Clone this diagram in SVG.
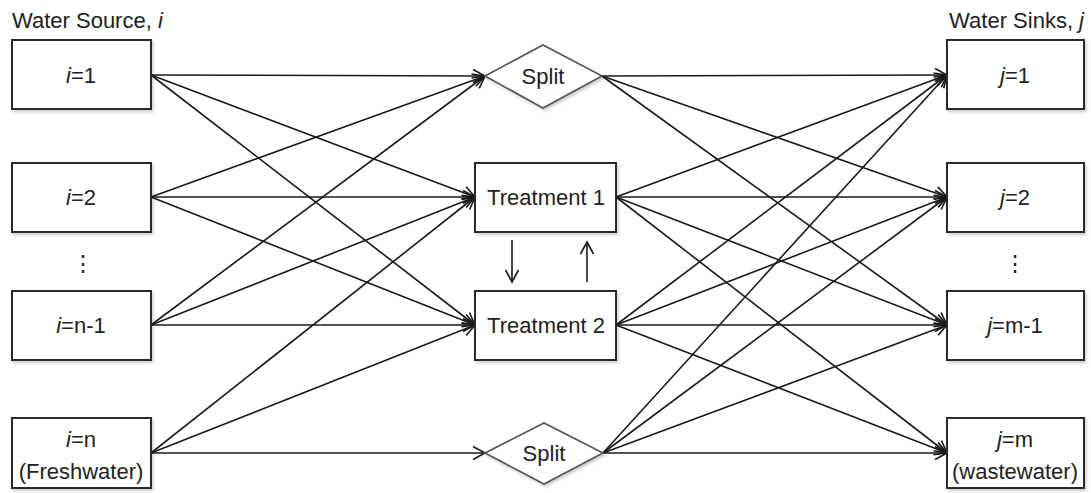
<svg xmlns="http://www.w3.org/2000/svg" width="1091" height="493" viewBox="0 0 1091 493">
<defs>
<marker id="arr" viewBox="-13 -8 15 16" refX="0" refY="0" markerWidth="15" markerHeight="16" markerUnits="userSpaceOnUse" orient="auto">
<path d="M-12,-6.5 L0,0 L-12,6.5" fill="none" stroke="#1a1a1a" stroke-width="1.6"/>
</marker>
<filter id="sh" x="-10%" y="-10%" width="125%" height="130%">
<feDropShadow dx="1.5" dy="2" stdDeviation="1.5" flood-color="#000" flood-opacity="0.2"/>
</filter>
<style>
.box{fill:#fff;stroke:#2a2a2a;stroke-width:2;filter:url(#sh)}
.dia{fill:#fff;stroke:#555;stroke-width:1.6;filter:url(#sh)}
.t{font-family:"Liberation Sans",Arial,sans-serif;font-size:22px;fill:#222;text-anchor:middle}
.h{font-family:"Liberation Sans",Arial,sans-serif;font-size:22px;fill:#222}
.c line{stroke:#1a1a1a;stroke-width:1.6;marker-end:url(#arr)}
</style>
</defs>
<rect width="1091" height="493" fill="#fff"/>
<text class="h" x="12" y="28">Water Source, <tspan font-style="italic">i</tspan></text>
<text class="h" x="1084" y="28" text-anchor="end">Water Sinks, <tspan font-style="italic">j</tspan></text>

<g class="c" id="connectors">
<line x1="151" y1="75" x2="485" y2="76"/>
<line x1="151" y1="197" x2="485" y2="76"/>
<line x1="151" y1="325" x2="485" y2="76"/>
<line x1="151" y1="75" x2="475" y2="197"/>
<line x1="151" y1="197" x2="475" y2="197"/>
<line x1="151" y1="325" x2="475" y2="197"/>
<line x1="151" y1="453" x2="475" y2="197"/>
<line x1="151" y1="75" x2="475" y2="325"/>
<line x1="151" y1="197" x2="475" y2="325"/>
<line x1="151" y1="325" x2="475" y2="325"/>
<line x1="151" y1="453" x2="475" y2="325"/>
<line x1="151" y1="453" x2="485" y2="453"/>
<line x1="602" y1="76" x2="947" y2="75"/>
<line x1="602" y1="76" x2="947" y2="197"/>
<line x1="602" y1="76" x2="947" y2="325"/>
<line x1="616" y1="197" x2="947" y2="75"/>
<line x1="616" y1="197" x2="947" y2="197"/>
<line x1="616" y1="197" x2="947" y2="325"/>
<line x1="616" y1="197" x2="947" y2="453"/>
<line x1="616" y1="325" x2="947" y2="75"/>
<line x1="616" y1="325" x2="947" y2="197"/>
<line x1="616" y1="325" x2="947" y2="325"/>
<line x1="616" y1="325" x2="947" y2="453"/>
<line x1="603" y1="453" x2="947" y2="75"/>
<line x1="603" y1="453" x2="947" y2="197"/>
<line x1="603" y1="453" x2="947" y2="325"/>
<line x1="603" y1="453" x2="947" y2="453"/>
<line x1="512" y1="240" x2="512" y2="282"/>
<line x1="587" y1="282" x2="587" y2="242"/>
</g>

<g id="src1"><rect class="box" x="12" y="40" width="139" height="69"/><text class="t" x="81" y="83"><tspan font-style="italic">i</tspan>=1</text></g>
<g id="src2"><rect class="box" x="12" y="163" width="139" height="69"/><text class="t" x="81" y="205"><tspan font-style="italic">i</tspan>=2</text></g>
<g id="srcdots"><text class="t" x="83" y="271">⋮</text></g>
<g id="srcn1"><rect class="box" x="12" y="291" width="139" height="69"/><text class="t" x="81" y="333"><tspan font-style="italic">i</tspan>=n-1</text></g>
<g id="srcn"><rect class="box" x="12" y="418" width="139" height="70"/><text class="t" x="81" y="447"><tspan font-style="italic">i</tspan>=n</text><text class="t" x="81" y="479">(Freshwater)</text></g>

<g id="split1"><polygon class="dia" points="485,76 543,45 602,76 543,108"/><text class="t" x="543" y="84">Split</text></g>
<g id="treat1"><rect class="box" x="475" y="163" width="141" height="69"/><text class="t" x="546" y="205">Treatment 1</text></g>
<g id="treat2"><rect class="box" x="475" y="291" width="141" height="69"/><text class="t" x="546" y="333">Treatment 2</text></g>
<g id="split2"><polygon class="dia" points="485,453 544,423 603,453 544,484"/><text class="t" x="544" y="461">Split</text></g>

<g id="sink1"><rect class="box" x="947" y="40" width="137" height="69"/><text class="t" x="1015" y="83"><tspan font-style="italic">j</tspan>=1</text></g>
<g id="sink2"><rect class="box" x="947" y="163" width="137" height="69"/><text class="t" x="1015" y="205"><tspan font-style="italic">j</tspan>=2</text></g>
<g id="sinkdots"><text class="t" x="1015" y="271">⋮</text></g>
<g id="sinkm1"><rect class="box" x="947" y="291" width="137" height="69"/><text class="t" x="1015" y="333"><tspan font-style="italic">j</tspan>=m-1</text></g>
<g id="sinkm"><rect class="box" x="947" y="418" width="137" height="70"/><text class="t" x="1015" y="447"><tspan font-style="italic">j</tspan>=m</text><text class="t" x="1015" y="479">(wastewater)</text></g>
</svg>
